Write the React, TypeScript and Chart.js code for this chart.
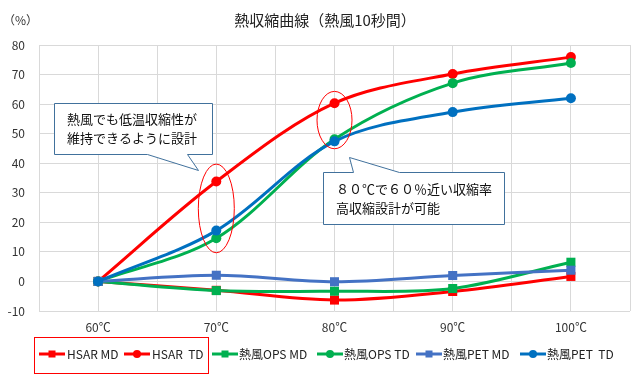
import React, { useEffect, useRef } from 'react';
import { Chart, registerables } from 'chart.js';

Chart.register(...registerables);

const categories = ['60℃', '70℃', '80℃', '90℃', '100℃'];
const hsarMD = [0, -3, -6.3, -3.4, 1.7];
const hsarTD = [0, 33.8, 60.3, 70.2, 75.9];
const opsMD = [0, -3.1, -3.3, -2.4, 6.5];
const opsTD = [0, 14.6, 48.1, 67.1, 73.9];
const petMD = [0, 2.1, -0.1, 2.0, 3.8];
const petTD = [0, 17.2, 47.4, 57.3, 62.0];
const seriesNames = ['HSAR MD', 'HSAR  TD', '熱風OPS MD', '熱風OPS TD', '熱風PET MD', '熱風PET  TD'];
const seriesValues = [hsarMD, hsarTD, opsMD, opsTD, petMD, petTD];
const seriesColors = ['#FF0000', '#FF0000', '#00B050', '#00B050', '#4472C4', '#0070C0'];
const seriesMarkers = ['rect', 'circle', 'rect', 'circle', 'rect', 'circle'];
const yMin = -10;
const yMax = 80;
const yStep = 10;

const titleText = '熱収縮曲線（熱風10秒間）';
const unitText = '（%）';
const note1 = ['熱風でも低温収縮性が', '維持できるように設計'];
const note2 = ['８０℃で６０％近い収縮率', '高収縮設計が可能'];

const FONT = "'Noto Sans CJK JP', 'Noto Sans', sans-serif";

// legend layout (line start x, text x)
const legendLayout = [
  [39, 67], [124, 152], [212, 239], [317, 344], [416, 443], [520, 547],
];

function drawMarker(ctx: CanvasRenderingContext2D, style: string, x: number, y: number, r: number, color: string) {
  ctx.fillStyle = color;
  if (style === 'rect') {
    ctx.fillRect(x - r, y - r, 2 * r, 2 * r);
  } else {
    ctx.beginPath();
    ctx.arc(x, y, r, 0, Math.PI * 2);
    ctx.fill();
  }
}

const overlayPlugin = {
  id: 'overlay',
  afterDatasetsDraw(chart: any) {
    const ctx: CanvasRenderingContext2D = chart.ctx;
    const xs = chart.scales.x;
    const ys = chart.scales.y;
    ctx.save();
    // ellipses highlighting points
    const ell = [
      { x: 1, yc: 24.7, rx: 18, ryv: 15 },
      { x: 2, yc: 54.6, rx: 17.5, ryv: 9.7 },
    ];
    ctx.strokeStyle = '#FF0000';
    ctx.lineWidth = 1;
    for (const e of ell) {
      const cx = xs.getPixelForValue(e.x);
      const cy = ys.getPixelForValue(e.yc);
      const ry = Math.abs(ys.getPixelForValue(e.yc + e.ryv) - cy);
      ctx.beginPath();
      ctx.ellipse(cx, cy, e.rx, ry, 0, 0, Math.PI * 2);
      ctx.stroke();
    }

    // callouts
    ctx.fillStyle = '#FFFFFF';
    ctx.strokeStyle = '#41719C';
    ctx.lineWidth = 1;
    ctx.beginPath();
    ctx.moveTo(54.5, 103.5);
    ctx.lineTo(212.5, 103.5);
    ctx.lineTo(212.5, 154.5);
    ctx.lineTo(187.5, 154.5);
    ctx.lineTo(198.5, 170.5);
    ctx.lineTo(147.5, 154.5);
    ctx.lineTo(54.5, 154.5);
    ctx.closePath();
    ctx.fill();
    ctx.stroke();

    ctx.beginPath();
    ctx.moveTo(323.5, 172.5);
    ctx.lineTo(353.5, 172.5);
    ctx.lineTo(349.5, 157.5);
    ctx.lineTo(399.5, 172.5);
    ctx.lineTo(504.5, 172.5);
    ctx.lineTo(504.5, 224.5);
    ctx.lineTo(323.5, 224.5);
    ctx.closePath();
    ctx.fill();
    ctx.stroke();

    ctx.fillStyle = '#111111';
    ctx.font = `13px ${FONT}`;
    ctx.textBaseline = 'middle';
    ctx.textAlign = 'left';
    ctx.fillText(note1[0], 67, 119);
    ctx.fillText(note1[1], 67, 138);
    ctx.fillText(note2[0], 336, 189);
    ctx.fillText(note2[1], 336, 208);
    ctx.restore();
  },
  afterDraw(chart: any) {
    const ctx: CanvasRenderingContext2D = chart.ctx;
    ctx.save();
    // title
    ctx.fillStyle = '#222222';
    ctx.font = `15px ${FONT}`;
    ctx.textAlign = 'center';
    ctx.textBaseline = 'middle';
    ctx.fillText(titleText, 325, 20);
    // unit
    ctx.font = `12px ${FONT}`;
    ctx.textAlign = 'left';
    ctx.fillStyle = '#333333';
    ctx.fillText(unitText, 3, 20);

    // legend
    const ly = 354;
    ctx.font = `12px ${FONT}`;
    seriesNames.forEach((name, i) => {
      const [lx, tx] = legendLayout[i];
      ctx.strokeStyle = seriesColors[i];
      ctx.lineWidth = 3;
      ctx.beginPath();
      ctx.moveTo(lx, ly);
      ctx.lineTo(lx + 26, ly);
      ctx.stroke();
      drawMarker(ctx, seriesMarkers[i], lx + 13, ly, seriesMarkers[i] === 'rect' ? 3.5 : 4, seriesColors[i]);
      ctx.fillStyle = '#222222';
      ctx.textAlign = 'left';
      ctx.textBaseline = 'middle';
      ctx.fillText(name, tx, ly);
    });
    // red highlight box around first two legend items
    ctx.strokeStyle = '#FF0000';
    ctx.lineWidth = 1;
    ctx.strokeRect(34.5, 337.5, 174, 36);
    ctx.restore();
  },
};

export default function App() {
  const ref = useRef<HTMLCanvasElement>(null);
  useEffect(() => {
    if (!ref.current) return;
    const datasets = seriesNames.map((name, i) => ({
      label: name,
      data: seriesValues[i].map((v, j) => ({ x: j, y: v })),
      borderColor: seriesColors[i],
      backgroundColor: seriesColors[i],
      borderWidth: 3,
      pointStyle: seriesMarkers[i],
      pointRadius: seriesMarkers[i] === 'rect' ? 6.4 : 5,
      pointBorderWidth: 0,
      tension: 0.33,
      order: seriesNames.length - i,
      clip: false as any,
    }));
    const chart = new Chart(ref.current, {
      type: 'line',
      data: { datasets },
      options: {
        responsive: false,
        animation: false,
        layout: { padding: { top: 45, right: 10, left: 0, bottom: 0 } },
        plugins: {
          legend: { display: false },
          title: { display: false },
          tooltip: { enabled: false },
        },
        scales: {
          x: {
            type: 'linear',
            min: -0.5,
            max: categories.length - 0.5,
            afterFit: (s: any) => { s.height = 66; },
            grid: { color: '#D9D9D9', lineWidth: 1, drawTicks: false },
            border: { display: false },
            ticks: {
              stepSize: 0.5,
              autoSkip: false,
              maxRotation: 0,
              padding: 9,
              color: '#333333',
              font: { family: FONT, size: 12 },
              callback: (v: any) => {
                const r = Math.round(v);
                return Math.abs(v - r) < 1e-6 && r >= 0 && r < categories.length ? categories[r] : '';
              },
            },
          },
          y: {
            min: yMin,
            max: yMax,
            afterFit: (s: any) => { s.width = 39; },
            grid: { color: '#D9D9D9', lineWidth: 1, drawTicks: false },
            border: { display: false },
            ticks: {
              stepSize: yStep,
              padding: 14,
              color: '#333333',
              font: { family: FONT, size: 12 },
            },
          },
        },
      },
      plugins: [overlayPlugin],
    });
    return () => chart.destroy();
  }, []);
  return (
    <div style={{ position: 'fixed', left: 0, top: 0, width: 640, height: 377, background: '#FFFFFF' }}>
      <canvas ref={ref} width={640} height={377} />
    </div>
  );
}
